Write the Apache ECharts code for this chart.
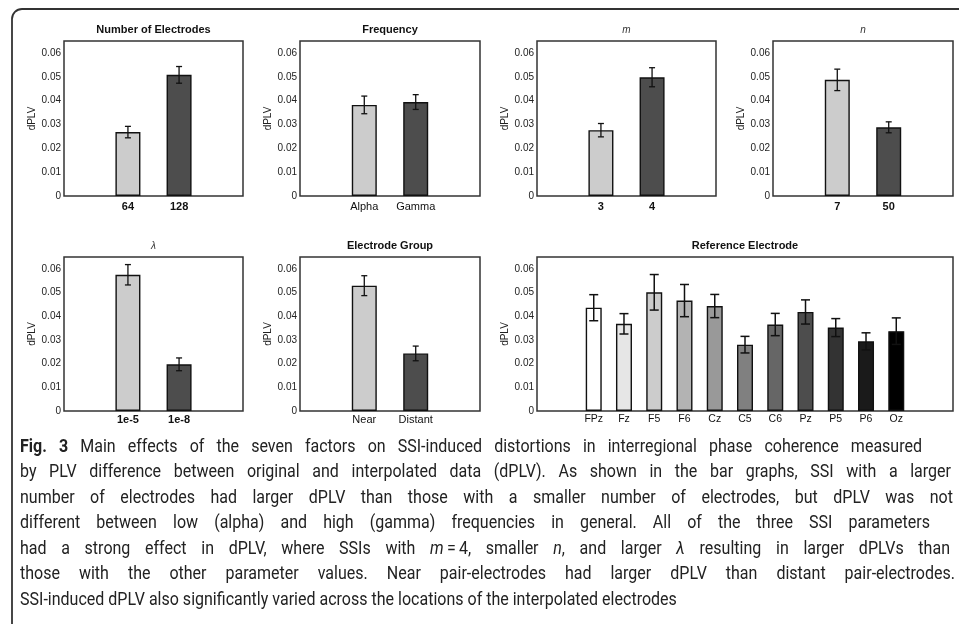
<!DOCTYPE html>
<html><head><meta charset="utf-8">
<script src="https://cdn.jsdelivr.net/npm/echarts@6/dist/echarts.min.js"></script>
<style>html,body{margin:0;padding:0;background:#fff;}#c{width:959px;height:624px;}</style>
</head><body><div id="c"></div><script>
// ---------- data ----------
const electrodesCats = ['64', '128'];
const electrodesVals = [0.0268, 0.0508];
const electrodesErr  = [0.0024, 0.0035];

const freqCats = ['Alpha', 'Gamma'];
const freqVals = [0.0382, 0.0394];
const freqErr  = [0.0037, 0.0031];

const mCats = ['3', '4'];
const mVals = [0.0276, 0.0498];
const mErr  = [0.0028, 0.0040];

const nCats = ['7', '50'];
const nVals = [0.0487, 0.0288];
const nErr  = [0.0045, 0.0023];

const lambdaCats = ['1e-5', '1e-8'];
const lambdaVals = [0.0575, 0.0197];
const lambdaErr  = [0.0043, 0.0027];

const groupCats = ['Near', 'Distant'];
const groupVals = [0.0529, 0.0243];
const groupErr  = [0.0042, 0.0031];

const refCats = ['FPz', 'Fz', 'F5', 'F6', 'Cz', 'C5', 'C6', 'Pz', 'P5', 'P6', 'Oz'];
const refVals = [0.0436, 0.0368, 0.0501, 0.0466, 0.0443, 0.0280, 0.0365, 0.0418, 0.0352, 0.0294, 0.0337];
const refErr  = [0.0055, 0.0043, 0.0075, 0.0068, 0.0049, 0.0035, 0.0047, 0.0051, 0.0038, 0.0036, 0.0056];

const yAxisMax = 0.065;
const yAxisStep = 0.01;

const captionLines = [
  '{b|Fig.} {b|3} Main effects of the seven factors on SSI-induced distortions in interregional phase coherence measured',
  'by PLV difference between original and interpolated data (dPLV). As shown in the bar graphs, SSI with a larger',
  'number of electrodes had larger dPLV than those with a smaller number of electrodes, but dPLV was not',
  'different between low (alpha) and high (gamma) frequencies in general. All of the three SSI parameters',
  'had a strong effect in dPLV, where SSIs with {i|m}\u2009=\u20094, smaller {i|n}, and larger {i|\u03bb} resulting in larger dPLVs than',
  'those with the other parameter values. Near pair-electrodes had larger dPLV than distant pair-electrodes.',
  'SSI-induced dPLV also significantly varied across the locations of the interpolated electrodes'
];

// ---------- styles / layout ----------
const FONT = "'Liberation Sans', Arial, sans-serif";
const CAPFONT = "Roboto, 'Liberation Sans', sans-serif";
const twoColors = ['#cccccc', '#4d4d4d'];
const rampColors = ['#ffffff', '#e6e6e6', '#cccccc', '#b3b3b3', '#999999', '#808080',
                    '#666666', '#4d4d4d', '#333333', '#1a1a1a', '#000000'];

const panels = [
  {title: 'Number of Electrodes', tStyle: 'bold', cats: electrodesCats, vals: electrodesVals, err: electrodesErr,
   colors: twoColors, box: [64, 41, 179, 155], bold: true, pad: 1.25, bw: 25, cap: 3, lw: 1.3, margin: 5},
  {title: 'Frequency', tStyle: 'bold', cats: freqCats, vals: freqVals, err: freqErr,
   colors: twoColors, box: [300, 41, 180, 155], bold: false, pad: 1.25, bw: 25, cap: 3, lw: 1.3, margin: 5},
  {title: 'm', tStyle: 'italic', cats: mCats, vals: mVals, err: mErr,
   colors: twoColors, box: [537, 41, 179, 155], bold: true, pad: 1.25, bw: 25, cap: 3, lw: 1.3, margin: 5},
  {title: 'n', tStyle: 'italic', cats: nCats, vals: nVals, err: nErr,
   colors: twoColors, box: [773, 41, 180, 155], bold: true, pad: 1.25, bw: 25, cap: 3, lw: 1.3, margin: 5},
  {title: '\u03bb', tStyle: 'italic', cats: lambdaCats, vals: lambdaVals, err: lambdaErr,
   colors: twoColors, box: [64, 257, 179, 154], bold: true, pad: 1.25, bw: 25, cap: 3, lw: 1.3, margin: 3},
  {title: 'Electrode Group', tStyle: 'bold', cats: groupCats, vals: groupVals, err: groupErr,
   colors: twoColors, box: [300, 257, 180, 154], bold: false, pad: 1.25, bw: 25, cap: 3, lw: 1.3, margin: 3},
  {title: 'Reference Electrode', tStyle: 'bold', cats: refCats, vals: refVals, err: refErr,
   colors: rampColors, box: [537, 257, 416, 154], bold: false, pad: 1.875, bw: 16, cap: 4.5, lw: 1.5, margin: 3,
   labelSize: 10.5}
];

function errRender(capHalf, lw) {
  return function (params, api) {
    const x = api.value(0), lo = api.value(1), hi = api.value(2);
    const a = api.coord([x, lo]), b = api.coord([x, hi]);
    const style = {stroke: '#111', lineWidth: lw, fill: null};
    return {type: 'group', children: [
      {type: 'line', shape: {x1: a[0], y1: a[1], x2: b[0], y2: b[1]}, style: style},
      {type: 'line', shape: {x1: b[0] - capHalf, y1: b[1], x2: b[0] + capHalf, y2: b[1]}, style: style},
      {type: 'line', shape: {x1: a[0] - capHalf, y1: a[1], x2: a[0] + capHalf, y2: a[1]}, style: style}
    ]};
  };
}

const grid = [], xAxis = [], yAxis = [], series = [], graphic = [];

graphic.push({type: 'rect', z: -10, shape: {x: 12, y: 9, width: 1200, height: 900, r: 10},
  style: {fill: 'none', stroke: '#333', lineWidth: 1.8}});

panels.forEach(function (p, i) {
  const [L, T, W, H] = p.box;
  grid.push({left: L, top: T, width: W, height: H, show: true, borderColor: '#333', borderWidth: 1.5,
    backgroundColor: 'transparent'});
  const span = p.pad * 2 + p.cats.length - 1;
  xAxis.push({type: 'value', gridIndex: i, min: 0, max: span, interval: 0.125,
    axisLine: {show: false}, axisTick: {show: false}, splitLine: {show: false},
    axisLabel: {
      margin: p.margin, fontSize: p.labelSize || 11, color: '#111', fontWeight: p.bold ? 'bold' : 'normal',
      fontFamily: FONT,
      formatter: function (v) {
        const k = v - p.pad, r = Math.round(k);
        if (Math.abs(k - r) < 1e-6 && r >= 0 && r < p.cats.length) return p.cats[r];
        return '';
      }
    }
  });
  yAxis.push({type: 'value', gridIndex: i, min: 0, max: yAxisMax, interval: yAxisStep,
    axisLine: {show: false}, axisTick: {show: false}, splitLine: {show: false},
    axisLabel: {showMaxLabel: false, margin: 3, fontSize: 10, color: '#222', fontFamily: FONT},
    name: 'dPLV', nameLocation: 'middle', nameRotate: 90, nameGap: 27,
    nameTextStyle: {fontSize: 10, color: '#222', fontFamily: FONT}
  });
  series.push({type: 'bar', xAxisIndex: i, yAxisIndex: i, barWidth: p.bw, z: 2,
    itemStyle: {borderColor: '#111', borderWidth: 1.4},
    data: p.vals.map(function (v, k) {
      return {value: [p.pad + k, v], itemStyle: {color: p.colors[k]}};
    })
  });
  series.push({type: 'custom', xAxisIndex: i, yAxisIndex: i, z: 5,
    encode: {x: 0, y: [1, 2]},
    renderItem: errRender(p.cap, p.lw),
    data: p.vals.map(function (v, k) { return [p.pad + k, v - p.err[k], v + p.err[k]]; })
  });
  const italic = p.tStyle === 'italic';
  graphic.push({type: 'text', x: L + W / 2, y: T - 11,
    style: {text: p.title, align: 'center', verticalAlign: 'middle',
      fontSize: italic ? 10 : 11, fontWeight: italic ? 'normal' : 'bold',
      fontStyle: italic ? 'italic' : 'normal', fontFamily: FONT, fill: italic ? '#333' : '#111'}});
});

// ---------- caption (justified lines, last line natural; condensed face) ----------
const capSize = 18;
const capScaleX = 0.89;
const capX = 20;
const capY = [447, 472.5, 498, 523.5, 549, 574.5, 600];
const capLineEnds = [922, 951, 953, 930, 950, 955, null];
const capRich = {
  b: {fontSize: capSize, fontFamily: CAPFONT, fontWeight: 'bold', fill: '#222'},
  i: {fontSize: capSize, fontFamily: CAPFONT, fontStyle: 'italic', fill: '#222'}
};
function capStyle(t) {
  return {text: t, align: 'left', verticalAlign: 'middle', fontSize: capSize, fontFamily: CAPFONT,
    fill: '#222', rich: capRich};
}
function measure(t) {
  return new echarts.graphic.Text({style: capStyle(t)}).getBoundingRect().width * capScaleX;
}
const spaceW = measure('a a') - 2 * measure('a');
captionLines.forEach(function (line, i) {
  const words = line.split(' ');
  const widths = words.map(measure);
  const total = widths.reduce(function (a, b) { return a + b; }, 0);
  const gaps = words.length - 1;
  const end = capLineEnds[i];
  const gap = end ? Math.max(spaceW, (end - capX - total) / gaps) : spaceW;
  let x = capX;
  words.forEach(function (w, k) {
    graphic.push({type: 'text', x: x, y: capY[i], scaleX: capScaleX, style: capStyle(w)});
    x += widths[k] + gap;
  });
});

const chart = echarts.init(document.getElementById('c'), null, {renderer: 'canvas'});
chart.setOption({animation: false, backgroundColor: '#fff', grid: grid, xAxis: xAxis, yAxis: yAxis,
  series: series, graphic: graphic});
</script></body></html>
